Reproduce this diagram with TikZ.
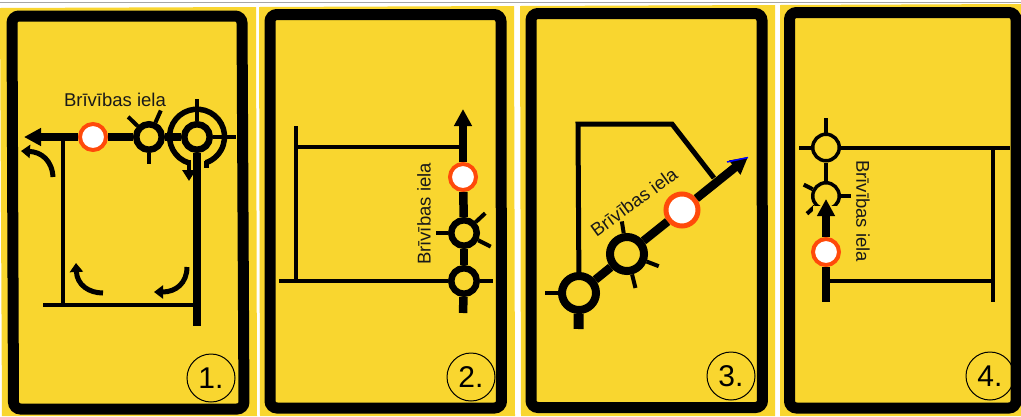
\documentclass[tikz,border=0pt]{standalone}
\usepackage{fontspec}
\setmainfont{Liberation Sans}
\usetikzlibrary{arrows.meta}
\definecolor{signyellow}{HTML}{F9D62F}
\definecolor{stoporange}{HTML}{FF4A0A}
\tikzset{
    signpanel/.style={fill=signyellow},
    signframe/.style={draw=black, line width=11pt, rounded corners=7pt},
    mainroad/.style={draw=black, line width=8.5pt},
    sideroad/.style={draw=black, line width=4pt},
    spoke/.style={draw=black, line width=4pt},
    turnarrow/.style={draw=black, line width=5pt, -{Triangle[length=9pt,width=13pt]}},
    ringbig/.style={circle, draw=black, fill=signyellow, line width=6.5pt, minimum size=25.5pt, inner sep=0pt},
    ringwide/.style={circle, draw=black, fill=signyellow, line width=8pt, minimum size=34pt, inner sep=0pt},
    ringthin/.style={circle, draw=black, fill=signyellow, line width=3.5pt, minimum size=26.5pt, inner sep=0pt},
    stopmark/.style={circle, draw=stoporange, fill=white, line width=4pt, minimum size=26pt, inner sep=0pt},
    stopwide/.style={circle, draw=stoporange, fill=white, line width=5pt, minimum size=32pt, inner sep=0pt},
    numbermark/.style={circle, draw=black, line width=1pt, minimum size=48pt, inner sep=0pt, font=\fontsize{30}{30}\selectfont},
    streetname/.style={font=\fontsize{18.5}{18.5}\selectfont, text=black!90, inner sep=0pt},
    roadtip/.style={-{Triangle[length=17pt,width=17pt]}}
}
\begin{document}
\begin{tikzpicture}[x=1pt,y=-1pt]
    \useasboundingbox (0,0) rectangle (1021,416);
    \fill[white] (0,0) rectangle (1021,416);
    \draw[black!35, line width=1pt] (0,2.5) -- (1021,2.5);
    % panels
    \fill[signpanel] (0,8) -- (256,7) -- (257,416) -- (2,416) -- cycle;
    \fill[signpanel] (259,7) -- (514,6) -- (515,416) -- (260,416) -- cycle;
    \fill[signpanel] (520,6) -- (775,5) -- (775,416) -- (521,416) -- cycle;
    \fill[signpanel] (780,5) -- (1021,4) -- (1021,416) -- (780,416) -- cycle;
    \draw[signframe] (12,16) -- (242,16) -- (244,409) -- (13.5,409) -- cycle;
    \draw[signframe] (270,14.5) -- (501,14.5) -- (501.5,408) -- (270,408) -- cycle;
    \draw[signframe] (531,13.5) -- (762,13.5) -- (762.5,407.5) -- (531,407.5) -- cycle;
    \draw[signframe] (789.5,12.5) -- (1016,12.5) -- (1016,408) -- (789.5,408) -- cycle;

    % sign 1
    \node[stopmark] (stopa) at (93,137) {};
    \node[ringbig] (ringa) at (149,137) {};
    \node[ringbig] (ringb) at (197,137) {};
    \coordinate (tipa) at (24,137);
    \coordinate (enda) at (197,326);
    \coordinate (joina) at (63,137);
    \coordinate (cornera) at (63,304.5);
    \coordinate (kerba) at (43,304.5);
    \coordinate (meeta) at (197,304.5);
    \draw[sideroad] (joina) -- (cornera);
    \draw[sideroad] (kerba) -- (meeta);
    \draw[mainroad, roadtip] (stopa) -- (tipa);
    \draw[mainroad] (stopa) -- (ringa);
    \draw[mainroad] (ringa) -- (ringb);
    \draw[mainroad] (ringb) -- (enda);
    \draw[spoke] (ringa) -- ++(-136:29);
    \draw[spoke] (ringa) -- ++(-66:29);
    \draw[spoke] (ringa) -- ++(90:27);
    \draw[spoke] (ringb) -- ++(-90:38);
    \draw[spoke] (ringb) -- ++(0:39);
    \draw[line width=5.5pt] (189,163) arc[start angle=-107, end angle=-431, radius=27.5pt];
    \draw[line width=5pt] (206,161) -- (206,168);
    \draw[line width=4pt, -{Triangle[length=11pt,width=13pt]}] (189,160) -- (189,181);
    \draw[turnarrow] (53,177) .. controls (52,160) and (41,152) .. (21,151);
    \draw[turnarrow] (103,293) .. controls (89,293) and (77,285) .. (76,263);
    \draw[turnarrow] (187,267) .. controls (187,283) and (176,292) .. (154,292);
    \node[streetname] (namea) at (115,100) {Brīvības iela};
    \node[numbermark] (numa) at (211,378) {1.};

    % sign 2
    \node[stopmark] (stopb) at (463,177) {};
    \node[ringbig] (ringc) at (464,233) {};
    \node[ringbig] (ringd) at (464,281) {};
    \coordinate (tipb) at (463,109);
    \coordinate (endb) at (463,313);
    \coordinate (cornerb) at (296,147);
    \coordinate (meetb) at (463,147);
    \coordinate (upb) at (296,126);
    \coordinate (downb) at (296,281);
    \coordinate (kerbb) at (279,281);
    \coordinate (farb) at (493,281);
    \draw[sideroad] (upb) -- (downb);
    \draw[sideroad] (cornerb) -- (meetb);
    \draw[sideroad] (kerbb) -- (ringd);
    \draw[sideroad] (ringd) -- (farb);
    \draw[mainroad, roadtip] (stopb) -- (tipb);
    \draw[mainroad] (stopb) -- (ringc);
    \draw[mainroad] (ringc) -- (ringd);
    \draw[mainroad] (ringd) -- (endb);
    \draw[spoke] (ringc) -- ++(180:28);
    \draw[spoke] (ringc) -- ++(-43:29);
    \draw[spoke] (ringc) -- ++(27:30);
    \node[streetname, rotate=90] (nameb) at (424,214) {Brīvības iela};
    \node[numbermark] (numb) at (471,377) {2.};

    % sign 3
    \node[stopwide] (stopc) at (682,210) {};
    \node[ringwide] (ringe) at (627,254) {};
    \node[ringwide] (ringf) at (579,293) {};
    \coordinate (tipc) at (748,157);
    \coordinate (endc) at (578.5,329);
    \coordinate (cornerc) at (578,124);
    \coordinate (bendc) at (672,124);
    \coordinate (meetc) at (714,178);
    \draw[line width=5pt, line join=miter] (ringf) -- (cornerc) -- (bendc) -- (meetc);
    \draw[mainroad, roadtip] (stopc) -- (tipc);
    \draw[blue, line width=1.5pt] (727,162) -- (748,157.5);
    \draw[mainroad] (stopc) -- (ringe);
    \draw[mainroad] (ringe) -- (ringf);
    \draw[mainroad, line width=10pt] (ringf) -- (endc);
    \draw[spoke] (ringf) -- ++(180:34);
    \draw[spoke] (ringe) -- ++(-99:33);
    \draw[spoke] (ringe) -- ++(21:34);
    \draw[spoke] (ringe) -- ++(76:35);
    \node[streetname, rotate=36] (namec) at (634,202) {Brīvības iela};
    \node[numbermark] (numc) at (731,376) {3.};

    % sign 4
    \node[ringthin] (ringg) at (826,147.5) {};
    \node[ringthin] (ringh) at (826,196) {};
    \node[stopmark] (stopd) at (826,252) {};
    \coordinate (tipd) at (826,199);
    \coordinate (endd) at (826,302);
    \coordinate (upd) at (826,118);
    \coordinate (leftd) at (799,147.5);
    \coordinate (rightd) at (1010,147.5);
    \coordinate (joind) at (826,281);
    \coordinate (cornerd) at (993,281);
    \coordinate (topd) at (993,147.5);
    \coordinate (lowd) at (993,302);
    \draw[sideroad] (ringg) -- (upd);
    \draw[sideroad] (ringg) -- (leftd);
    \draw[sideroad] (ringg) -- (rightd);
    \draw[sideroad] (joind) -- (cornerd);
    \draw[sideroad] (topd) -- (lowd);
    \draw[sideroad] (ringg) -- (ringh);
    \draw[spoke] (ringh) -- ++(0:25);
    \draw[spoke] (ringh) -- ++(-153:25);
    \draw[spoke] (ringh) -- ++(137:26);
    % the arrow hides the foot of the ring
    \fill[signpanel] (813,206) rectangle (839,214);
    \draw[mainroad, roadtip] (stopd) -- (tipd);
    \draw[mainroad] (stopd) -- (endd);
    \node[streetname, rotate=-90] (named) at (863,211) {Brīvības iela};
    \node[numbermark] (numd) at (990,376) {4.};
\end{tikzpicture}
\end{document}
